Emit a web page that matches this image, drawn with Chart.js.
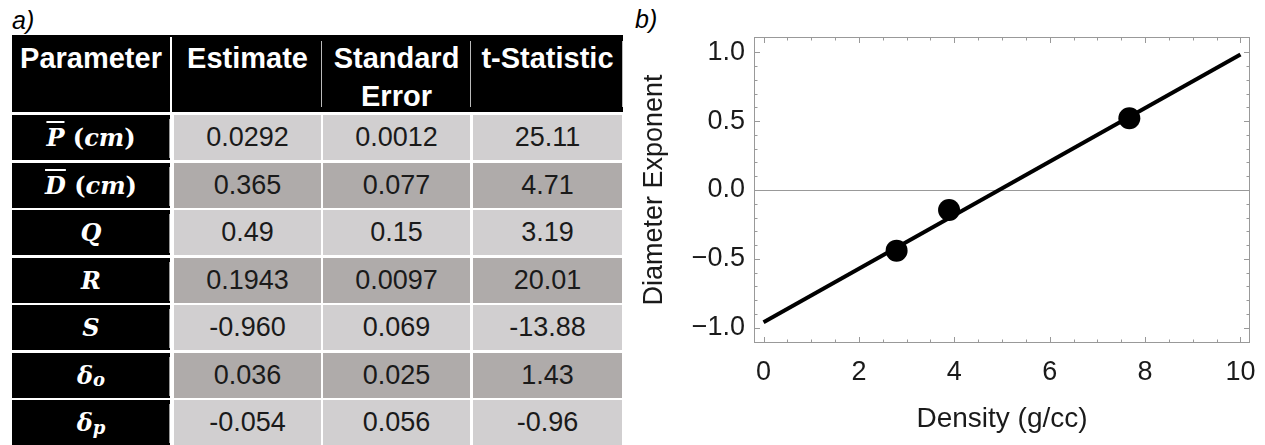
<!DOCTYPE html>
<html>
<head>
<meta charset="utf-8">
<script src="https://cdn.jsdelivr.net/npm/chart.js@4.4.1/dist/chart.umd.min.js"></script>
<style>
  html, body { margin: 0; padding: 0; background: #fff; overflow: hidden; }
  body { width: 1265px; height: 445px; position: relative; font-family: 'Liberation Sans', Arial, sans-serif; }
  .panel { position: absolute; font-style: italic; font-size: 25px; line-height: 25px; color: #000; }
  #labelA { left: 12px; top: 8px; }
  #labelB { left: 635px; top: 7px; }
  .cell { position: absolute; display: flex; align-items: center; justify-content: center; box-sizing: border-box; }
  .head { position: absolute; color: #fff; font-weight: bold; font-size: 29px; line-height: 38px; text-align: center; padding-top: 4px; box-sizing: border-box; }
  .num { font-size: 27px; color: #1a1a1a; }
  .sym { background: #000; color: #fff; font-family: 'DejaVu Serif', serif; font-weight: bold; font-style: italic; font-size: 24px; }
  .sym .bar { text-decoration: overline; text-decoration-thickness: 2px; }
  .sym .up { font-style: normal; }
  .sym sub { font-size: 0.75em; line-height: 0; position: relative; top: 0.15em; vertical-align: baseline; }
  .vline { position: absolute; width: 1px; }
  #chartBox { position: absolute; left: 630px; top: 0; width: 635px; height: 445px; }
</style>
</head>
<body>
<div id="labelA" class="panel">a)</div>
<div id="table"></div>
<div id="labelB" class="panel">b)</div>
<div id="chartBox"><canvas id="fitChart"></canvas></div>
<script>
// table a)
const headers = ['Parameter', 'Estimate', 'Standard<br>Error', 't-Statistic'];
const params = [
  '<span class="bar">P</span> <span class="up">(</span>cm<span class="up">)</span>',
  '<span class="bar">D</span> <span class="up">(</span>cm<span class="up">)</span>',
  'Q', 'R', 'S',
  'δ<sub>o</sub>', 'δ<sub>p</sub>'
];
const estimates = ['0.0292', '0.365', '0.49', '0.1943', '-0.960', '0.036', '-0.054'];
const stdErrors = ['0.0012', '0.077', '0.15', '0.0097', '0.069', '0.025', '0.056'];
const tStats = ['25.11', '4.71', '3.19', '20.01', '-13.88', '1.43', '-0.96'];

// plot b)
const densities = [2.79, 3.89, 7.67];
const exponents = [-0.44, -0.145, 0.52];
const fitX = [0, 10];
const fitY = [-0.960, 0.983];
const xTicks = [0, 2, 4, 6, 8, 10];
const yTicks = [-1, -0.5, 0, 0.5, 1];

const colLeft = [12, 174, 323, 473];
const colWidth = [158, 147, 147, 149];
const rowTop = 115, rowPitch = 47.5, rowHeight = 45;

const table = document.getElementById('table');
function addDiv(cls, style, html) {
  const d = document.createElement('div');
  d.className = cls;
  Object.assign(d.style, style);
  if (html !== undefined) d.innerHTML = html;
  table.appendChild(d);
  return d;
}

// header band
addDiv('', { position: 'absolute', left: '12px', top: '35px', width: '611px', height: '77px', background: '#000' });
headers.forEach((h, c) => {
  addDiv('head', { left: colLeft[c] + 'px', top: '35px', width: colWidth[c] + 'px', height: '77px' }, h);
});
addDiv('', { position: 'absolute', left: '170px', top: '37px', width: '2px', height: '78px', background: '#fff' });
[321, 470, 622].forEach(x => {
  addDiv('vline', { left: x + 'px', top: '41px', height: '66px', background: '#bbb' });
});

// body rows
const columns = [estimates, stdErrors, tStats];
params.forEach((p, r) => {
  const top = rowTop + r * rowPitch;
  const bg = r % 2 === 0 ? '#d1cfd0' : '#afabaa';
  addDiv('cell sym', { left: '12px', top: top + 'px', width: '158px', height: rowHeight + 'px' }, '<span>' + p + '</span>');
  addDiv('vline', { left: '169px', top: (top + 4) + 'px', height: (rowHeight - 6) + 'px', background: '#999' });
  columns.forEach((vals, c) => {
    addDiv('cell num', {
      left: colLeft[c + 1] + 'px', top: top + 'px',
      width: colWidth[c + 1] + 'px', height: rowHeight + 'px', background: bg
    }, vals[r]);
  });
});

// frame with inward ticks on all four sides
const frameTicks = {
  id: 'frameTicks',
  afterDraw(chart) {
    const { ctx, chartArea: a, scales: { x, y } } = chart;
    ctx.save();
    ctx.strokeStyle = '#999';
    ctx.lineWidth = 1;
    ctx.strokeRect(a.left + 0.5, a.top + 0.5, a.right - a.left - 1, a.bottom - a.top - 1);
    ctx.beginPath();
    for (let i = 0; i <= 20; i++) {
      const px = Math.round(x.getPixelForValue(i * 0.5)) + 0.5;
      const len = i % 4 === 0 ? 6 : 3.5;
      ctx.moveTo(px, a.bottom); ctx.lineTo(px, a.bottom - len);
      ctx.moveTo(px, a.top); ctx.lineTo(px, a.top + len);
    }
    for (let i = -10; i <= 10; i++) {
      const py = Math.round(y.getPixelForValue(i / 10)) + 0.5;
      const len = i % 5 === 0 ? 6 : 3.5;
      ctx.moveTo(a.left, py); ctx.lineTo(a.left + len, py);
      ctx.moveTo(a.right, py); ctx.lineTo(a.right - len, py);
    }
    ctx.stroke();
    ctx.restore();
  }
};

const fontFamily = "'Liberation Sans', Arial, sans-serif";

new Chart(document.getElementById('fitChart').getContext('2d'), {
  type: 'scatter',
  data: {
    datasets: [{
      data: densities.map((d, i) => ({ x: d, y: exponents[i] })),
      backgroundColor: '#000',
      borderWidth: 0,
      pointRadius: 11
    }, {
      data: fitX.map((d, i) => ({ x: d, y: fitY[i] })),
      showLine: true,
      borderColor: '#000',
      borderWidth: 4,
      pointRadius: 0
    }]
  },
  options: {
    responsive: true,
    maintainAspectRatio: false,
    animation: false,
    layout: { padding: { top: 37, right: 15, left: 0, bottom: 0 } },
    plugins: { legend: { display: false }, tooltip: { enabled: false } },
    scales: {
      x: {
        min: -0.2,
        max: 10.2,
        afterBuildTicks: s => { s.ticks = xTicks.map(v => ({ value: v })); },
        afterFit: s => { s.height = 102; },
        grid: { display: false },
        border: { display: false },
        ticks: { color: '#1a1a1a', padding: 5, font: { family: fontFamily, size: 27 } },
        title: {
          display: true,
          text: 'Density (g/cc)',
          color: '#1a1a1a',
          padding: { top: 0, bottom: 9 },
          font: { family: fontFamily, size: 28 }
        }
      },
      y: {
        min: -1.11,
        max: 1.11,
        afterBuildTicks: s => { s.ticks = yTicks.map(v => ({ value: v })); },
        afterFit: s => { s.width = 124; },
        grid: {
          drawTicks: false,
          color: c => (c.tick && c.tick.value === 0 ? '#999' : 'rgba(0,0,0,0)')
        },
        border: { display: false },
        ticks: {
          color: '#1a1a1a',
          padding: 9,
          font: { family: fontFamily, size: 27 },
          callback: v => (v < 0 ? '\u2212' : '') + Math.abs(v).toFixed(1)
        },
        title: {
          display: true,
          text: 'Diameter Exponent',
          color: '#1a1a1a',
          padding: { top: 8, bottom: 0 },
          font: { family: fontFamily, size: 27 }
        }
      }
    }
  },
  plugins: [frameTicks]
});
</script>
</body>
</html>
